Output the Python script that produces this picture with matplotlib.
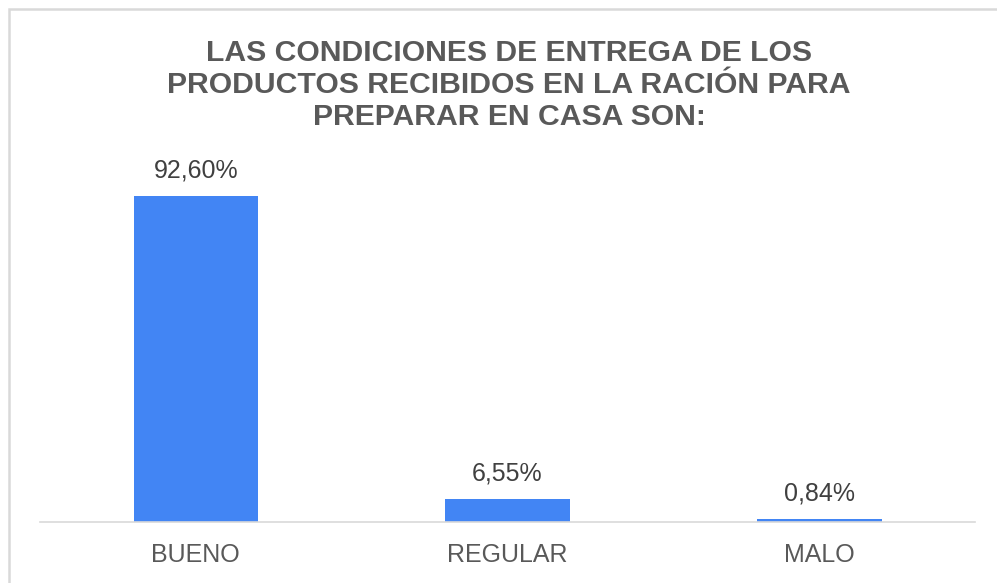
import matplotlib
matplotlib.use("Agg")
import matplotlib.pyplot as plt
from matplotlib.patches import Rectangle

# datos
categorias = ["BUENO", "REGULAR", "MALO"]
porcentajes = [92.60, 6.55, 0.84]
etiquetas = ["92,60%", "6,55%", "0,84%"]
titulo = ("LAS CONDICIONES DE ENTREGA DE LOS\n"
          "PRODUCTOS RECIBIDOS EN LA RACIÓN PARA\n"
          "PREPARAR EN CASA SON:")

plt.rcParams["font.family"] = ["Liberation Sans", "DejaVu Sans"]

W, H = 997, 583
fig = plt.figure(figsize=(W / 100, H / 100), dpi=100)
fig.patch.set_facecolor("white")

# marco gris del grafico (solo se ven los bordes superior e izquierdo)
fig.patches.append(Rectangle((9 / W, -0.1), 1.2, (H - 9) / H + 0.1,
                             transform=fig.transFigure, fill=False,
                             edgecolor="#d9d9d9", linewidth=1.8))

# ejes: x de 40 a 975 px, base en y=522, tope (100%) en y=170
ax = fig.add_axes([40 / W, (H - 522) / H, 935 / W, 352 / H])
x = range(len(categorias))
ax.bar(x, porcentajes, width=0.4, color="#4285f4", zorder=2)
ax.set_xlim(-0.5, len(categorias) - 0.5)
ax.set_ylim(0, 100)

for xi, v, lab in zip(x, porcentajes, etiquetas):
    ax.annotate(lab, (xi, v), xytext=(0, 13), textcoords="offset points",
                ha="center", va="baseline", fontsize=18, color="#404040")

ax.set_xticks(list(x))
ax.set_xticklabels(categorias, fontsize=18, color="#595959")
ax.tick_params(axis="x", length=0, pad=15)
ax.set_yticks([])
for s in ["top", "right", "left"]:
    ax.spines[s].set_visible(False)
ax.spines["bottom"].set_color("#d9d9d9")
ax.spines["bottom"].set_linewidth(1.2)

fig.text(509 / W, 1 - 39 / H, titulo, ha="center", va="top",
         fontsize=21.7, fontweight="bold", color="#595959", linespacing=1.19)

fig.savefig("out.png", dpi=100)
